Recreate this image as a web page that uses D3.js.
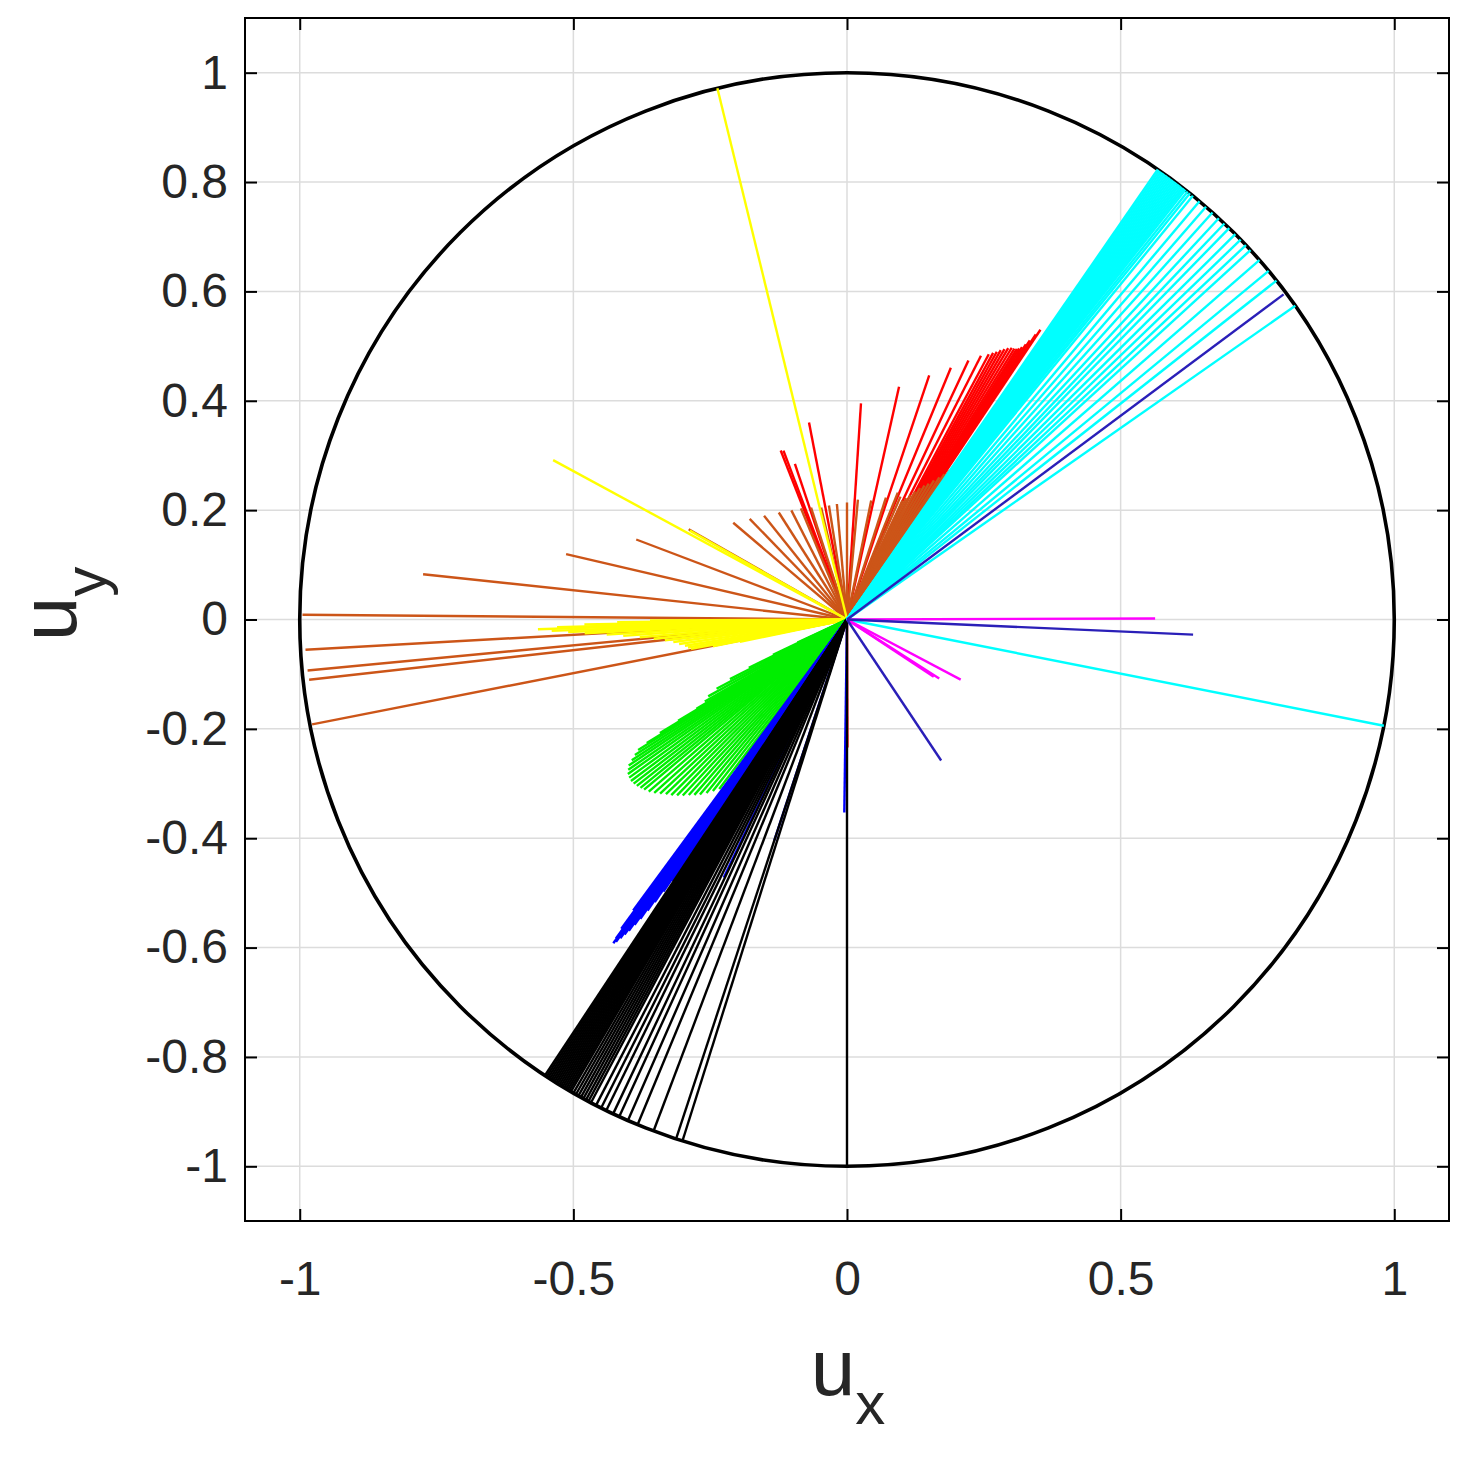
<!DOCTYPE html>
<html><head><meta charset="utf-8">
<script src="https://cdn.jsdelivr.net/npm/d3@7"></script>
<style>body{margin:0;background:#fff}</style></head>
<body>
<svg id="chart" width="1477" height="1460"></svg>
<script>
// ---- data: each segment starts at the origin; [angle in degrees, length] ----
const xTickValues = [-1, -0.5, 0, 0.5, 1];
const yTickValues = [-1, -0.8, -0.6, -0.4, -0.2, 0, 0.2, 0.4, 0.6, 0.8, 1];
const xTickLabels = ["-1", "-0.5", "0", "0.5", "1"];
const yTickLabels = ["-1", "-0.8", "-0.6", "-0.4", "-0.2", "0", "0.2", "0.4", "0.6", "0.8", "1"];

const redLines = [
  [56.3,0.637],[56.5,0.625],[56.8,0.61],[57.0,0.60],[57.3,0.592],[57.6,0.587],[57.9,0.584],
  [58.3,0.582],[58.8,0.581],[59.3,0.577],[59.8,0.572],[60.3,0.567],[60.8,0.561],[61.3,0.556],
  [61.9,0.550],[63.1,0.541],[64.9,0.523],[67.6,0.498],[71.4,0.471],[77.4,0.436],[86.3,0.396],
  [100.9,0.367],[108.5,0.30],[110.6,0.33],[111.4,0.332],[270.2,0.234]
];
const brownLines = [
  [55.5,0.33],[56.2,0.32],[57.0,0.31],[58.0,0.30],[59.0,0.29],[60.0,0.283],[61.0,0.275],
  [62.0,0.265],[63.0,0.255],[64.0,0.247],[65.0,0.24],[66.5,0.245],[68.2,0.25],[72.3,0.234],
  [78.5,0.222],[84.8,0.22],[90.0,0.214],[95.0,0.212],[99.0,0.211],[103.0,0.21],[107.8,0.215],
  [112.5,0.22],[117.0,0.224],[122.5,0.232],[128.6,0.243],[134.0,0.256],[139.6,0.273],
  [150.3,0.333],[159.2,0.412],[166.9,0.527],[173.9,0.779],[179.5,0.995],[183.2,0.991],
  [185.4,0.99],[186.4,0.989],[191.1,0.996]
];
const yellowLines = [
  [103.7,1.0],[151.5,0.611],[150.5,0.33],
  [180.3,0.36],[180.7,0.42],[181.1,0.48],[181.5,0.53],[181.8,0.565],[182.2,0.54],[182.6,0.51],
  [183.0,0.48],[183.6,0.44],[184.2,0.41],[184.9,0.38],[185.7,0.355],[186.5,0.335],[187.4,0.32],
  [188.3,0.31],[189.2,0.30],[190.0,0.295],[190.7,0.29],[191.3,0.25],[191.8,0.20]
];
const greenLines = [
  [205.0,0.10],[205.6,0.15],[206.2,0.20],[207.0,0.24],[208.0,0.27],[209.0,0.29],[210.0,0.30],
  [210.7,0.32],[211.0,0.36],[211.3,0.40],[211.7,0.43],[212.0,0.45],[212.6,0.46],[213.2,0.47],
  [213.8,0.48],[214.5,0.485],[215.2,0.49],[216.0,0.492],[216.8,0.493],[217.6,0.492],[218.4,0.49],
  [219.2,0.487],[220.0,0.484],[221.0,0.48],[222.0,0.474],[223.0,0.467],[224.0,0.46],[225.0,0.454],
  [226.0,0.447],[227.0,0.44],[228.0,0.432],[229.0,0.425],[230.0,0.418],[231.0,0.408],[232.0,0.398],
  [233.0,0.388],[234.0,0.378],[235.0,0.37],[235.7,0.366]
];
const blueLines = [
  [233.7,0.66],[233.9,0.70],[234.1,0.72],[234.2,0.73],[234.4,0.725],[234.6,0.715],[234.8,0.705],
  [235.0,0.695],[235.2,0.68],[235.4,0.665],[235.6,0.645],[235.8,0.625],[236.0,0.60],[236.2,0.575],
  [236.4,0.55],[236.6,0.525],[236.8,0.50],
  [244.5,0.523],[251.8,0.425],[269.2,0.353]
];
const blackLines = [
  [236.5,1],[236.7,1],[236.9,1],[237.1,1],[237.3,1],[237.5,1],[237.7,1],[237.9,1],[238.1,1],
  [238.3,1],[238.5,1],[238.7,1],[238.9,1],[239.1,1],[239.3,1],[239.5,1],[239.7,1],[240.0,1],
  [240.3,1],[240.6,1],[240.9,1],[241.2,1],[241.5,1],[241.8,1],[242.1,1],[242.7,1],[243.3,1],
  [243.9,1],[244.7,1],[245.4,1],[246.4,1],[247.5,1],[249.3,1],[251.8,1],[252.5,1],[270.0,1]
];
const cyanLines = [
  [55.4,1],[55.2,1],[55.0,1],[54.8,1],[54.6,1],[54.4,1],[54.2,1],[54.0,1],[53.8,1],[53.6,1],
  [53.4,1],[53.2,1],[53.0,1],[52.8,1],[52.6,1],[52.4,1],[52.2,1],[52.0,1],[51.8,1],[51.5,1],
  [51.2,1],[50.8,1],[49.9,1],[49.0,1],[48.1,1],[47.2,1],[46.4,1],[45.7,1],[44.8,1],[44.0,1],
  [43.2,1],[42.5,1],[41.1,1],[39.6,1],[38.3,1],[35.0,1],
  [-11.2,1]
];
const magentaLines = [[0.2,0.563],[-33.5,0.19],[-32.6,0.20],[-27.9,0.235]];
const navyLines = [[36.7,0.995],[-2.5,0.633],[-56.3,0.31]];

const groups = [
  {data: redLines, color: "#ff0000"},
  {data: brownLines, color: "#cc5518"},
  {data: yellowLines, color: "#ffff00"},
  {data: greenLines, color: "#00ee00"},
  {data: blueLines, color: "#0000ff"},
  {data: blackLines, color: "#000000"},
  {data: cyanLines, color: "#00ffff"},
  {data: magentaLines, color: "#ff00ff"},
  {data: navyLines, color: "#2a1fb8"}
];

// ---- layout ----
const svg = d3.select("#chart");
const pLeft = 245, pRight = 1449, pTop = 18, pBottom = 1221;
const x = d3.scaleLinear().domain([-1.1, 1.1]).range([pLeft, pRight]);
const y = d3.scaleLinear().domain([-1.1, 1.1]).range([pBottom, pTop]);
const font = "'Liberation Sans', Arial, sans-serif";
const txt = "#262626";

// grid
svg.append("g").selectAll("line").data(xTickValues).join("line")
  .attr("x1", d => x(d)).attr("x2", d => x(d)).attr("y1", pTop).attr("y2", pBottom)
  .attr("stroke", "#dcdcdc").attr("stroke-width", 1.5);
svg.append("g").selectAll("line").data(yTickValues).join("line")
  .attr("y1", d => y(d)).attr("y2", d => y(d)).attr("x1", pLeft).attr("x2", pRight)
  .attr("stroke", "#dcdcdc").attr("stroke-width", 1.5);

// unit circle
svg.append("ellipse").attr("cx", x(0)).attr("cy", y(0))
  .attr("rx", x(1) - x(0)).attr("ry", y(0) - y(1))
  .attr("fill", "none").attr("stroke", "#000").attr("stroke-width", 3.6);

// segments
const rad = Math.PI / 180;
groups.forEach(g => {
  svg.append("g").selectAll("line").data(g.data).join("line")
    .attr("x1", x(0)).attr("y1", y(0))
    .attr("x2", d => x(d[1] * Math.cos(d[0] * rad)))
    .attr("y2", d => y(d[1] * Math.sin(d[0] * rad)))
    .attr("stroke", g.color).attr("stroke-width", 2.4);
});

// axes box and ticks
const tickLen = 12;
svg.append("rect").attr("x", pLeft).attr("y", pTop).attr("width", pRight-pLeft).attr("height", pBottom-pTop)
  .attr("fill", "none").attr("stroke", "#000").attr("stroke-width", 2);
const xAxis = d3.axisBottom(x).tickValues(xTickValues).tickSize(-tickLen).tickPadding(40)
  .tickFormat((d, i) => xTickLabels[i]);
const yAxis = d3.axisLeft(y).tickValues(yTickValues).tickSize(-tickLen).tickPadding(17)
  .tickFormat((d, i) => yTickLabels[i]);
const gx = svg.append("g").attr("transform", `translate(0,${pBottom})`).call(xAxis);
const gy = svg.append("g").attr("transform", `translate(${pLeft},0)`).call(yAxis);
const gxt = svg.append("g").attr("transform", `translate(0,${pTop})`).call(d3.axisTop(x).tickValues(xTickValues).tickSize(-tickLen).tickFormat(""));
const gyr = svg.append("g").attr("transform", `translate(${pRight},0)`).call(d3.axisRight(y).tickValues(yTickValues).tickSize(-tickLen).tickFormat(""));
[gx, gy, gxt, gyr].forEach(g => {
  g.select(".domain").remove();
  g.selectAll(".tick line").attr("stroke", "#000").attr("stroke-width", 2);
  g.selectAll(".tick text").attr("font-family", font).attr("font-size", 48).attr("fill", txt);
});

// axis labels
const lx = svg.append("text").attr("x", 848).attr("y", 1395).attr("text-anchor", "middle")
  .attr("font-family", font).attr("fill", txt);
lx.append("tspan").attr("font-size", 80).text("u");
lx.append("tspan").attr("font-size", 60).attr("dy", 29).text("x");

const ly = svg.append("text").attr("transform", "translate(76,604) rotate(-90)").attr("text-anchor", "middle")
  .attr("font-family", font).attr("fill", txt);
ly.append("tspan").attr("font-size", 80).text("u");
ly.append("tspan").attr("font-size", 60).attr("dy", 30).text("y");
</script>
</body></html>
